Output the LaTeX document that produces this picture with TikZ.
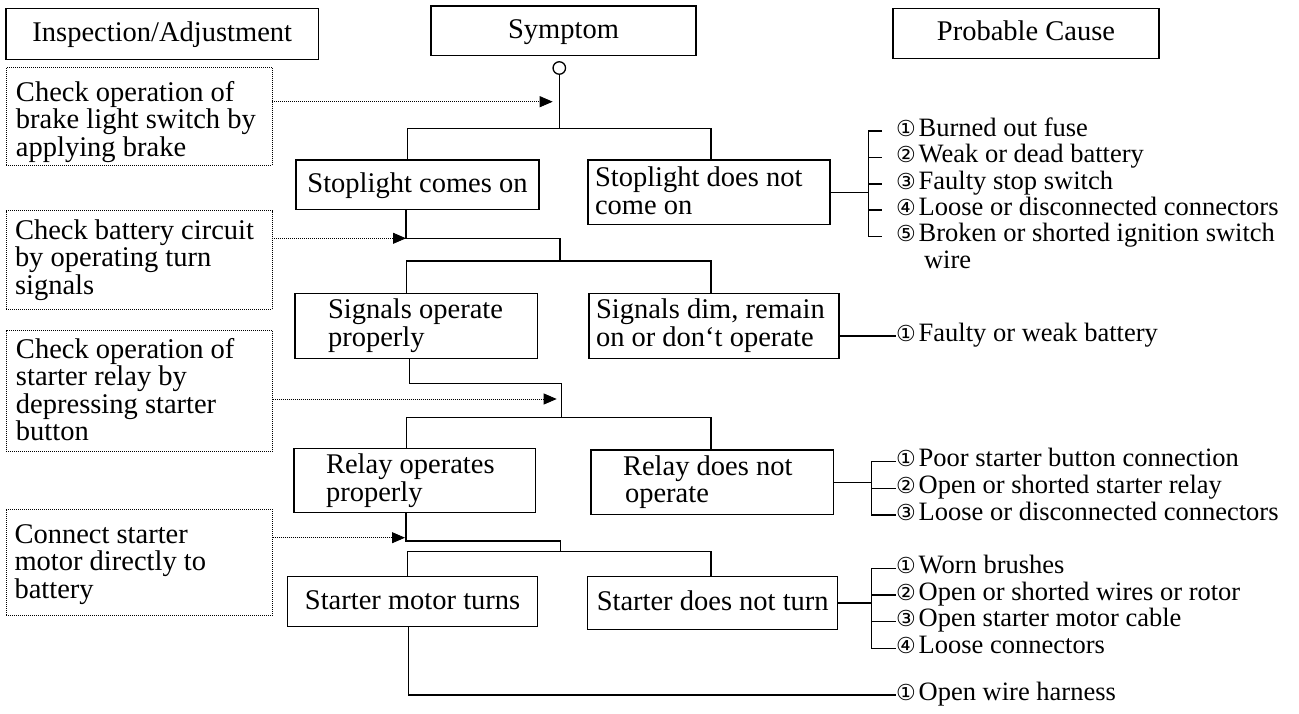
\documentclass[tikz,border=0pt]{standalone}
\usepackage{fontspec}
\setmainfont{Liberation Serif}
\newfontfamily\circfont{DejaVu Sans}
\usetikzlibrary{arrows.meta}
\newcommand\cnum[1]{{\circfont\fontsize{22}{24}\selectfont #1}\hspace{3pt}}
\newcommand\ts{\rule[-3pt]{0pt}{21pt}}
\begin{document}
\begin{tikzpicture}[x=1pt,y=-1pt,
  every node/.style={inner sep=0pt, outer sep=0pt},
  box/.style={draw, line width=1.3pt, font=\fontsize{28.5}{27}\selectfont, text height=20pt, text depth=5pt},
  dbox/.style={draw, line width=0.9pt, dash pattern=on 1pt off 1pt},
  txt/.style={anchor=west, align=left, font=\fontsize{28.5}{27.5}\selectfont},
  ln/.style={line width=1.3pt},
  darr/.style={line width=0.9pt, dash pattern=on 1pt off 1pt, -{Triangle[length=13pt,width=11pt]}},
  item/.style={anchor=west, font=\fontsize{26.5}{26}\selectfont},
]
\useasboundingbox (0,0) rectangle (1299,714);

% headers
\node[box, minimum width=312.5pt, minimum height=51pt] (insp) at (162.3,33.8) {Inspection/Adjustment};
\node[box, minimum width=265pt, minimum height=49.3pt] (symp) at (563.5,30.7) {Symptom};
\node[box, minimum width=266pt, minimum height=50pt] (cause) at (1026,33.3) {Probable Cause};
\node[circle, draw, line width=1.3pt, minimum size=12.5pt] (circ) at (559.3,68) {};

% inspection boxes
\node[dbox, minimum width=266pt, minimum height=97.8pt] (d1) at (139,116.6) {};
\node[txt] (d1t) at ([xshift=10pt,yshift=-5pt]d1.west) {\ts Check operation of\\\ts brake light switch by\\\ts applying brake};
\node[dbox, minimum width=266pt, minimum height=98.6pt] (d2) at (139,260) {};
\node[txt] (d2t) at ([xshift=9pt]d2.west) {\ts Check battery circuit\\\ts by operating turn\\\ts signals};
\node[dbox, minimum width=266.6pt, minimum height=121pt] (d3) at (139.3,391.2) {};
\node[txt] (d3t) at ([xshift=10pt]d3.west) {\ts Check operation of\\\ts starter relay by\\\ts depressing starter\\\ts button};
\node[dbox, minimum width=266.6pt, minimum height=105.7pt] (d4) at (139.3,562.2) {};
\node[txt] (d4t) at ([xshift=8.5pt,yshift=-2pt]d4.west) {\ts Connect starter\\\ts motor directly to\\\ts battery};

% symptom boxes
\node[box, minimum width=243pt, minimum height=49.3pt] (s1) at (417.5,184.7) {Stoplight comes on};
\node[box, minimum width=242pt, minimum height=64.3pt] (s2) at (709,192.2) {};
\node[txt] (s2t) at ([xshift=7pt]s2.west) {\ts Stoplight does not\\\ts come on};
\node[box, minimum width=242.3pt, minimum height=65pt] (s3) at (416.2,325.8) {};
\node[txt] (s3t) at ([xshift=33pt]s3.west) {\ts Signals operate\\\ts properly};
\node[box, minimum width=250pt, minimum height=65pt] (s4) at (714,325.8) {};
\node[txt] (s4t) at ([xshift=7pt]s4.west) {\ts Signals dim, remain\\\ts on or don‘t operate};
\node[box, minimum width=241.7pt, minimum height=64.4pt] (s5) at (414.9,480.5) {};
\node[txt] (s5t) at ([xshift=32pt]s5.west) {\ts Relay operates\\\ts properly};
\node[box, minimum width=242.3pt, minimum height=64.3pt] (s6) at (712.2,482.2) {};
\node[txt] (s6t) at ([xshift=32pt]s6.west) {\ts Relay does not\\\ts\hspace*{2pt}operate};
\node[box, minimum width=250.2pt, minimum height=50pt] (s7) at (412.6,601.7) {Starter motor turns};
\node[box, minimum width=250pt, minimum height=52.6pt] (s8) at (712.7,603) {Starter does not turn};

% probable causes
\node[item] (a1) at (896,131) {\strut\cnum{①}Burned out fuse};
\node[item] (a2) at (896,157.5) {\strut\cnum{②}Weak or dead battery};
\node[item] (a3) at (896,184) {\strut\cnum{③}Faulty stop switch};
\node[item] (a4) at (896,210) {\strut\cnum{④}Loose or disconnected connectors};
\node[item] (a5) at (896,236.5) {\strut\cnum{⑤}Broken or shorted ignition switch};
\node[item] (a5w) at (924,263) {\strut wire};
\node[item] (b1) at (896,336) {\strut\cnum{①}Faulty or weak battery};
\node[item] (c1) at (896,461.7) {\strut\cnum{①}Poor starter button connection};
\node[item] (c2) at (896,488.3) {\strut\cnum{②}Open or shorted starter relay};
\node[item] (c3) at (896,515) {\strut\cnum{③}Loose or disconnected connectors};
\node[item] (e1) at (896,568.3) {\strut\cnum{①}Worn brushes};
\node[item] (e2) at (896,595) {\strut\cnum{②}Open or shorted wires or rotor};
\node[item] (e3) at (896,621.7) {\strut\cnum{③}Open starter motor cable};
\node[item] (e4) at (896,648.3) {\strut\cnum{④}Loose connectors};
\node[item] (w1) at (896,695) {\strut\cnum{①}Open wire harness};

% tree coordinates
\coordinate (j1) at (559.3,128.3);
\coordinate (b1L) at (407.3,128.3);
\coordinate (b1R) at (711,128.3);
\coordinate (t1) at (552.7,101.7);

\coordinate (v2) at (406,238.3);
\coordinate (j2a) at (560,238.3);
\coordinate (j2b) at (560,261);
\coordinate (b2L) at (406.7,261);
\coordinate (b2R) at (711,261);

\coordinate (v3) at (409.3,383.3);
\coordinate (j3a) at (561.7,383.3);
\coordinate (j3b) at (561.7,417.7);
\coordinate (b3L) at (406.7,417.7);
\coordinate (b3R) at (711,417.7);
\coordinate (t3) at (556.7,399);

\coordinate (v4) at (406,541);
\coordinate (j4a) at (560.3,541);
\coordinate (j4b) at (560.3,551.7);
\coordinate (b4L) at (407.7,551.7);
\coordinate (b4R) at (711,551.7);
\coordinate (t4) at (405,537.7);

\coordinate (v5) at (408.3,695);

\coordinate (brA) at (868.3,0);
\coordinate (brC) at (871.7,0);
\coordinate (brE) at (871.7,0);

% level 1
\draw[ln] (circ.south) -- (j1);
\draw[ln] (b1L |- s1.north) -- (b1L) -- (b1R) -- (b1R |- s2.north);
\draw[darr] (d1.east |- t1) -- (t1);
% level 2
\draw[ln] (v2 |- s1.south) -- (v2) -- (j2a) -- (j2b);
\draw[ln] (b2L |- s3.north) -- (b2L) -- (b2R) -- (b2R |- s4.north);
\draw[darr] (d2.east |- v2) -- (v2);
% level 3
\draw[ln] (v3 |- s3.south) -- (v3) -- (j3a) -- (j3b);
\draw[ln] (b3L |- s5.north) -- (b3L) -- (b3R) -- (b3R |- s6.north);
\draw[darr] (d3.east |- t3) -- (t3);
% level 4
\draw[ln] (v4 |- s5.south) -- (v4) -- (j4a) -- (j4b);
\draw[ln] (b4L |- s7.north) -- (b4L) -- (b4R) -- (b4R |- s8.north);
\draw[darr] (d4.east |- t4) -- (t4);
% level 5
\draw[ln] (v5 |- s7.south) -- (v5) -- (w1.west);

% cause brackets
\draw[ln] (s2.east) -- (s2.east -| brA);
\draw[ln] ([xshift=-14pt]a1.west) -- (brA |- a1.west) -- (brA |- a5.west) -- ([xshift=-14pt]a5.west);
\draw[ln] (brA |- a2.west) -- ([xshift=-14pt]a2.west);
\draw[ln] (brA |- a3.west) -- ([xshift=-14pt]a3.west);
\draw[ln] (brA |- a4.west) -- ([xshift=-14pt]a4.west);

\draw[ln] (s4.east |- b1.west) -- (b1.west);

\draw[ln] (s6.east) -- (s6.east -| brC);
\draw[ln] (c1.west) -- (brC |- c1.west) -- (brC |- c3.west) -- (c3.west);
\draw[ln] (brC |- c2.west) -- (c2.west);

\draw[ln] (s8.east) -- (s8.east -| brE);
\draw[ln] (e1.west) -- (brE |- e1.west) -- (brE |- e4.west) -- (e4.west);
\draw[ln] (brE |- e2.west) -- (e2.west);
\draw[ln] (brE |- e3.west) -- (e3.west);
\end{tikzpicture}
\end{document}
